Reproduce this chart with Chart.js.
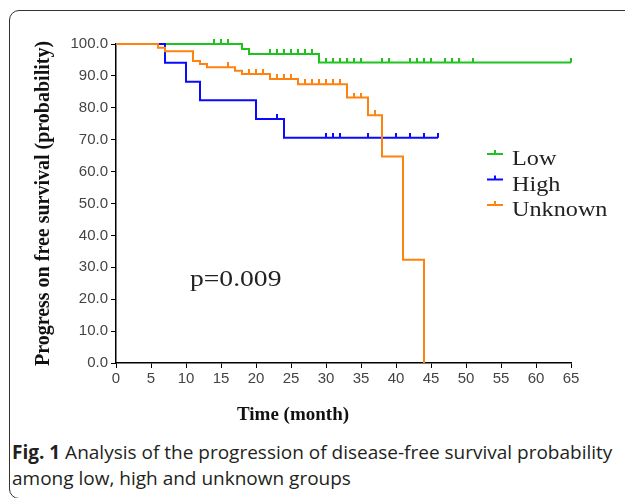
<!DOCTYPE html>
<html>
<head>
<meta charset="utf-8">
<script src="https://cdn.jsdelivr.net/npm/chart.js@4.4.1/dist/chart.umd.min.js"></script>
<style>
  body { margin: 0; background: #fff; width: 625px; height: 498px; overflow: hidden; position: relative; }
  #frame { position: absolute; left: 9px; top: 10px; width: 700px; height: 489px; border: 1.5px solid #333; border-radius: 10px; box-sizing: border-box; }
  #km { position: absolute; left: 0; top: 0; }
  #caption { position: absolute; left: 12px; top: 439px; width: 605px; font-family: 'Open Sans', sans-serif; font-size: 19px; line-height: 26px; color: #231f20; }
</style>
</head>
<body>
<div id="frame"></div>
<canvas id="km" width="625" height="430"></canvas>
<div id="caption"><b>Fig. 1</b> Analysis of the progression of disease-free survival probability among low, high and unknown groups</div>
<script>
// Kaplan-Meier steps (time in months, survival %)
const lowTimes = [0, 18, 19, 29, 65];
const lowSurv = [100, 98.4, 96.9, 94.2, 94.2];
const lowCensor = [14, 15, 16, 22, 23, 24, 25, 26, 27, 28, 30, 31, 32, 33, 34, 35, 38, 39, 42, 43, 44, 45, 47, 48, 49, 51, 65];

const highTimes = [0, 7, 10, 12, 20, 24, 46];
const highSurv = [100, 94.1, 88.2, 82.4, 76.5, 70.6, 70.6];
const highCensor = [23, 30, 31, 32, 36, 40, 42, 44, 46];

const unkTimes = [0, 6, 7, 11, 12, 13, 17, 18, 22, 26, 33, 36, 38, 41, 44];
const unkSurv = [100, 98.8, 97.7, 94.7, 93.7, 92.7, 91.6, 90.6, 89.0, 87.4, 83.2, 77.7, 64.7, 32.4, 0];
const unkCensor = [16, 19, 20, 21, 23, 24, 25, 27, 28, 29, 30, 31, 32, 34, 35, 37];

const groups = ['Low', 'High', 'Unknown'];
const colors = ['#1ec31e', '#0a0aff', '#ff8210'];
const xTicks = { min: 0, max: 65, step: 5 };
const yTicks = { min: 0, max: 100, step: 10 };

function survAt(times, surv, t) {
    let v = surv[0];
    for (let i = 0; i < times.length; i++) {
        if (times[i] <= t) v = surv[i];
    }
    return v;
}

function tickImage(color) {
    const c = document.createElement('canvas');
    c.width = 2;
    c.height = 10;
    const g = c.getContext('2d');
    g.fillStyle = color;
    g.fillRect(0, 0, 2, 5);
    return c;
}

const series = [
    [lowTimes, lowSurv, lowCensor],
    [highTimes, highSurv, highCensor],
    [unkTimes, unkSurv, unkCensor]
];

const datasets = [];
series.forEach(([times, surv, cens], i) => {
    datasets.push({
        label: groups[i],
        data: times.map((t, k) => ({ x: t, y: surv[k] })),
        borderColor: colors[i],
        borderWidth: 2,
        stepped: true,
        pointRadius: 0,
        clip: false,
        order: 2 - i
    });
    datasets.push({
        label: groups[i] + ' censored',
        data: cens.map(t => ({ x: t, y: survAt(times, surv, t) })),
        showLine: false,
        pointStyle: tickImage(colors[i]),
        pointRadius: 3,
        clip: false,
        order: 2 - i
    });
});

// serif text in the source image is slightly stretched sideways
function wideText(ctx, text, x, y, sx) {
    ctx.save();
    ctx.translate(x, y);
    ctx.scale(sx, 1);
    ctx.fillText(text, 0, 0);
    ctx.restore();
}

const overlay = {
    id: 'overlay',
    afterDraw(chart) {
        const ctx = chart.ctx;
        ctx.save();
        // legend
        groups.forEach((g, i) => {
            const base = 165 + i * 25.5;
            const my = base - 11;
            ctx.strokeStyle = colors[i];
            ctx.lineWidth = 2;
            ctx.beginPath();
            ctx.moveTo(487, my);
            ctx.lineTo(503, my);
            ctx.moveTo(495, my);
            ctx.lineTo(495, my - 4);
            ctx.stroke();
            ctx.fillStyle = '#222';
            ctx.font = '22px "Liberation Serif"';
            ctx.textAlign = 'left';
            ctx.textBaseline = 'alphabetic';
            wideText(ctx, g, 512, base, 1.1);
        });
        // p value
        ctx.fillStyle = '#222';
        ctx.font = '24px "Liberation Serif"';
        wideText(ctx, 'p=0.009', 190, 286, 1.15);
        // x title
        ctx.font = 'bold 19px "Liberation Serif"';
        ctx.textAlign = 'center';
        ctx.fillStyle = '#111';
        ctx.fillText('Time (month)', 293, 420);
        ctx.restore();
    }
};

new Chart(document.getElementById('km'), {
    type: 'line',
    data: { datasets: datasets },
    options: {
        responsive: false,
        animation: false,
        layout: { padding: { left: 0, top: 44, right: 54, bottom: 0 } },
        plugins: { legend: { display: false }, tooltip: { enabled: false } },
        scales: {
            x: {
                type: 'linear',
                min: xTicks.min,
                max: xTicks.max,
                afterFit: s => { s.height = 67; },
                ticks: {
                    stepSize: xTicks.step,
                    padding: 2,
                    color: '#444',
                    font: { family: 'Liberation Sans', size: 15 }
                },
                grid: { drawOnChartArea: false, color: '#000', tickLength: 5 },
                border: { color: '#000', width: 1.5 }
            },
            y: {
                min: yTicks.min,
                max: yTicks.max,
                afterFit: s => { s.width = 116; },
                ticks: {
                    stepSize: yTicks.step,
                    padding: 3,
                    color: '#444',
                    font: { family: 'Liberation Sans', size: 15 },
                    callback: v => v.toFixed(1)
                },
                grid: { drawOnChartArea: false, color: '#000', tickLength: 5 },
                border: { color: '#000', width: 1.5 },
                title: {
                    display: true,
                    text: 'Progress on free survival (probability)',
                    color: '#111',
                    font: { family: 'Liberation Serif', size: 20, weight: 'bold' },
                    padding: { top: 32, bottom: 0 }
                }
            }
        }
    },
    plugins: [overlay]
});
</script>
</body>
</html>
